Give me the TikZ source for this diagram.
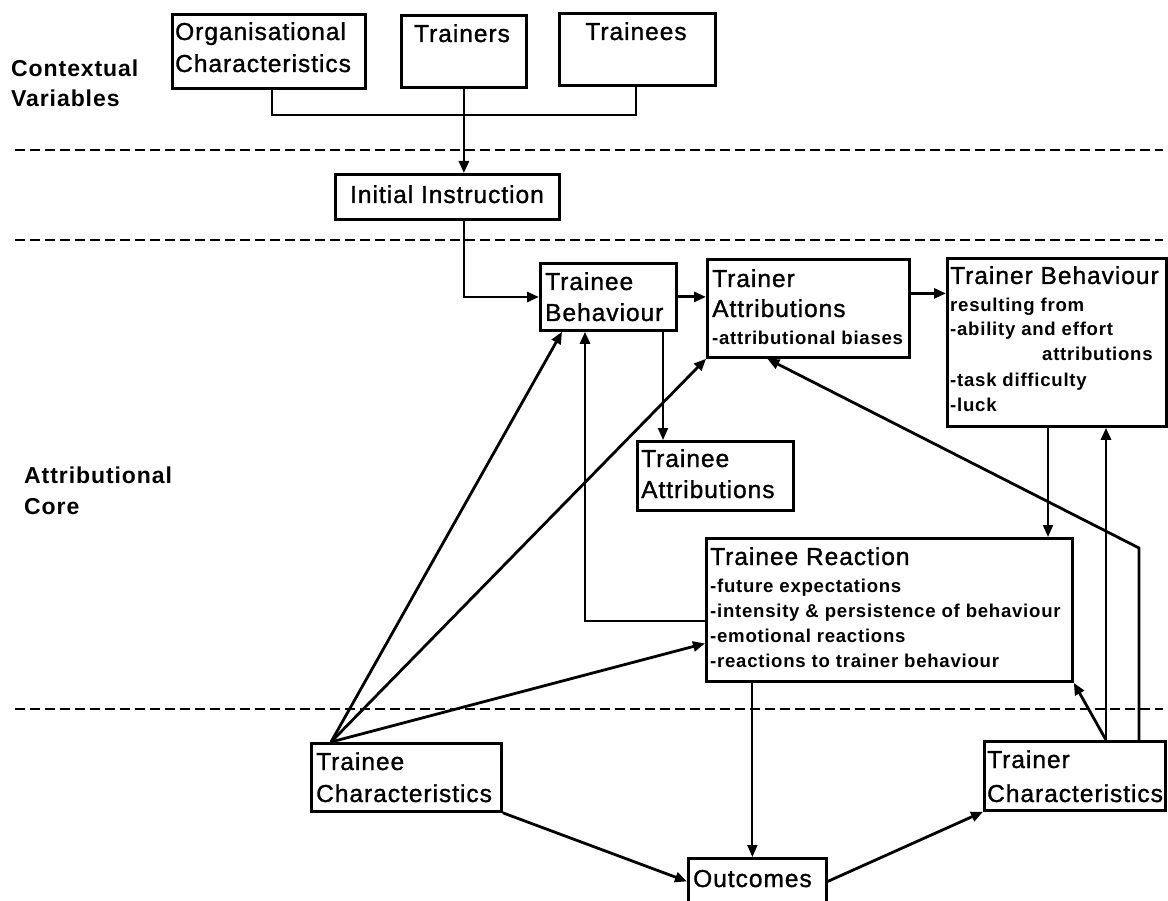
\documentclass[tikz,border=0pt]{standalone}
\usepackage{fontspec}
\setmainfont[LetterSpace=4]{Liberation Sans}
\newfontfamily\medfont[LetterSpace=4,FakeBold=1.2]{Liberation Sans}
\usetikzlibrary{arrows.meta}
\newcommand\bigtx{\medfont\fontsize{24.5}{30}\selectfont}
\newcommand\smtx{\fontsize{18.6}{25}\selectfont\bfseries}
\newcommand\lbtx{\fontsize{23}{30}\selectfont\bfseries}
\begin{document}
\begin{tikzpicture}[x=1pt,y=-1pt,
 box/.style={draw, line width=2.8pt, inner sep=0pt, anchor=north west},
 conn/.style={line width=2.8pt},
 arr/.style={conn, -{Triangle[length=12pt,width=10pt]}},
 tarr/.style={line width=1.9pt, -{Triangle[length=12pt,width=10pt]}},
 sep/.style={line width=2.2pt, dash pattern=on 10pt off 5pt},
 big/.style={inner sep=0pt, anchor=base west, font=\bigtx},
 sm/.style={inner sep=0pt, anchor=base west, font=\smtx},
 lb/.style={inner sep=0pt, anchor=base west, font=\lbtx},
]
\useasboundingbox (0,0) rectangle (1168,901);

% separators
\draw[sep] (15,150) -- (1163,150);
\draw[sep] (15,240) -- (1163,240);
\draw[sep] (15,709) -- (1163,709);

% boxes
\node[box, minimum width=193pt, minimum height=74pt] (org) at (171,13) {};
\node[box, minimum width=125pt, minimum height=72pt] (trs) at (400,14) {};
\node[box, minimum width=156pt, minimum height=72pt] (tes) at (558,12) {};
\node[box, minimum width=224pt, minimum height=45pt] (init) at (334,173) {};
\node[box, minimum width=136pt, minimum height=67pt] (tb) at (539,262) {};
\node[box, minimum width=202pt, minimum height=98pt] (ta) at (706,258) {};
\node[box, minimum width=219pt, minimum height=168pt] (trb) at (946,257) {};
\node[box, minimum width=156pt, minimum height=69pt] (tatt) at (636,440) {};
\node[box, minimum width=366pt, minimum height=143pt] (tr) at (705,537) {};
\node[box, minimum width=190pt, minimum height=68pt] (tc) at (310,742) {};
\node[box, minimum width=181pt, minimum height=69pt] (trc) at (983,740) {};
\node[box, minimum width=138pt, minimum height=46pt] (out) at (687,857) {};

% texts
\node[lb] (lctx1) at (11,77) {Contextual};
\node[lb] (lctx2) at (11,107) {Variables};
\node[lb] (latt1) at (24,483) {Attributional};
\node[lb] (latt2) at (24,514) {Core};

\node[big] (torg1) at (175,40) {Organisational};
\node[big] (torg2) at (175,72) {Characteristics};
\node[big, anchor=base] (ttrs) at (462,42) {Trainers};
\node[big, anchor=base] (ttes) at (636,40) {Trainees};
\node[big, anchor=base] (tinit) at (447,203) {Initial Instruction};

\node[big] (ttb1) at (545,290) {Trainee};
\node[big] (ttb2) at (545,321) {Behaviour};

\node[big] (tta1) at (712,287) {Trainer};
\node[big] (tta2) at (712,317) {Attributions};
\node[sm] (tta3) at (712,345) {-attributional biases};

\node[big] (ttrb1) at (950,284) {Trainer Behaviour};
\node[sm] (ttrb2) at (950,312) {resulting from};
\node[sm] (ttrb3) at (950,336) {-ability and effort};
\node[sm] (ttrb4) at (1042,361) {attributions};
\node[sm] (ttrb5) at (950,387) {-task difficulty};
\node[sm] (ttrb6) at (950,412) {-luck};

\node[big] (ttatt1) at (641,467) {Trainee};
\node[big] (ttatt2) at (641,498) {Attributions};

\node[big] (ttr1) at (710,565) {Trainee Reaction};
\node[sm] (ttr2) at (710,592) {-future expectations};
\node[sm] (ttr3) at (710,617) {-intensity \& persistence of behaviour};
\node[sm] (ttr4) at (710,642) {-emotional reactions};
\node[sm] (ttr5) at (710,667) {-reactions to trainer behaviour};

\node[big] (ttc1) at (316,770) {Trainee};
\node[big] (ttc2) at (316,802) {Characteristics};
\node[big] (ttrc1) at (987,768) {Trainer};
\node[big] (ttrc2) at (987,802) {Characteristics};
\node[big] (tout) at (693,887) {Outcomes};

% connectors
\coordinate (barL) at (272,115);
\coordinate (barR) at (636,115);
\draw[conn] (barL |- org.south) -- (barL) -- (barR) -- (barR |- tes.south);
\draw[arr] (trs.south) -- (trs.south |- init.north);
\coordinate (ii) at (464,297);
\draw[arr] (ii |- init.south) -- (ii) -- (ii -| tb.west);
\draw[arr] (tb.east) -- (tb.east -| ta.west);
\draw[arr] ([yshift=15pt]ta.east) -- ([yshift=15pt]ta.east -| trb.west);
\coordinate (v1) at (663,0);
\draw[tarr] (v1 |- tb.south) -- (v1 |- tatt.north);
\coordinate (k1) at (585,621);
\draw[arr] (k1 -| tr.west) -- (k1) -- (k1 |- tb.south);
\coordinate (tcA) at ([xshift=21pt]tc.north west);
\draw[arr] (tcA) -- ([xshift=23pt]tb.south west);
\draw[arr] (tcA) -- (ta.south west);
\draw[arr] (tcA) -- ([yshift=-33.5pt]tr.west);
\draw[arr] (tc.south east) -- (out.west);
\draw[arr] (out.east) -- (trc.south west);
\coordinate (v2) at ([xshift=-5pt]out.north);
\draw[tarr] (v2 |- tr.south) -- (v2);
\coordinate (v3) at (1048,0);
\draw[tarr] (v3 |- trb.south) -- (v3 |- tr.north);
\coordinate (v4) at (1106,0);
\draw[arr] (v4 |- trc.north) -- (v4 |- trb.south);
\draw[arr] (v4 |- trc.north) -- (tr.south east);
\coordinate (v5) at (1139,548);
\draw[arr] (v5 |- trc.north) -- (v5) -- ([xshift=-41pt]ta.south);
\end{tikzpicture}
\end{document}
